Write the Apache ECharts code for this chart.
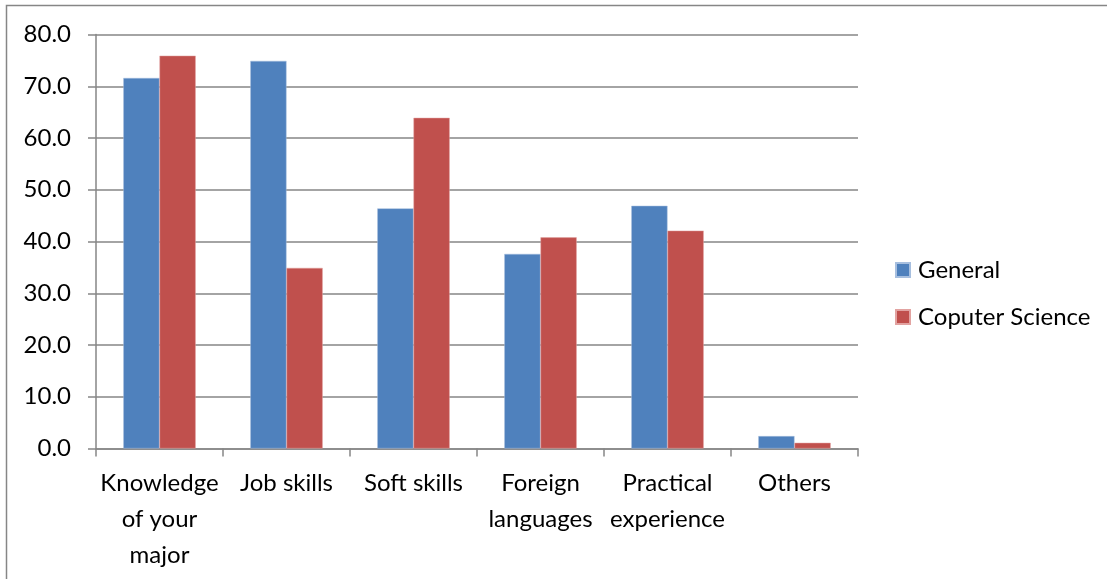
<!DOCTYPE html>
<html>
<head>
<meta charset="utf-8">
<script src="https://cdn.jsdelivr.net/npm/echarts@6/dist/echarts.min.js"></script>
<style>
  html, body { margin: 0; padding: 0; background: #fff; }
  #chart { width: 1107px; height: 579px; }
</style>
</head>
<body>
<div id="chart"></div>
<script>
var categories = ['Knowledge\nof your\nmajor', 'Job skills', 'Soft skills', 'Foreign\nlanguages', 'Practical\nexperience', 'Others'];
var generalValues = [71.6, 74.9, 46.4, 37.6, 46.9, 2.4];
var csValues = [75.9, 34.9, 63.9, 40.8, 42.1, 1.1];
var seriesNames = ['General', 'Coputer Science'];

var fontFamily = 'Lato, "Open Sans", sans-serif';
var axisGray = '#868686';

var chart = echarts.init(document.getElementById('chart'));
var option = {
    animation: false,
    backgroundColor: '#fff',
    textStyle: { fontFamily: fontFamily },
    graphic: [{
        type: 'rect',
        shape: { x: 6.5, y: 5.5, width: 1120, height: 600 },
        style: { fill: 'none', stroke: axisGray, lineWidth: 1.5 },
        silent: true
    }],
    grid: { left: 96, right: 249, top: 34.5, bottom: 130.5 },
    legend: {
        orient: 'vertical',
        left: 890,
        top: 253,
        itemWidth: 14,
        itemHeight: 14,
        itemGap: 23,
        icon: 'rect',
        textStyle: { fontSize: 24, color: '#000', fontFamily: fontFamily, padding: [0, 0, 0, 3] },
        data: seriesNames
    },
    xAxis: {
        type: 'category',
        data: categories,
        axisLine: { lineStyle: { color: axisGray, width: 1.5 } },
        axisTick: { show: true, length: 8, lineStyle: { color: axisGray, width: 1.5 } },
        axisLabel: {
            color: '#000',
            fontSize: 24,
            lineHeight: 36,
            margin: 17,
            interval: 0
        }
    },
    yAxis: {
        type: 'value',
        min: 0,
        max: 80,
        interval: 10,
        axisLine: { show: true, lineStyle: { color: axisGray, width: 1.5 } },
        axisTick: { show: true, length: 8, lineStyle: { color: axisGray, width: 1.5 } },
        splitLine: { lineStyle: { color: axisGray, width: 1.5 } },
        axisLabel: {
            color: '#000',
            fontSize: 24,
            margin: 25,
            formatter: function (v) { return v.toFixed(1); }
        }
    },
    series: [{
        name: seriesNames[0],
        type: 'bar',
        data: generalValues,
        barGap: '0%',
        barCategoryGap: '43%',
        itemStyle: { color: '#4f81bd', borderColor: '#a7bfdf', borderWidth: 0.5 }
    }, {
        name: seriesNames[1],
        type: 'bar',
        data: csValues,
        barGap: '0%',
        barCategoryGap: '43%',
        itemStyle: { color: '#c0504d', borderColor: '#e2a3a1', borderWidth: 0.5 }
    }]
};
chart.setOption(option);
</script>
</body>
</html>
